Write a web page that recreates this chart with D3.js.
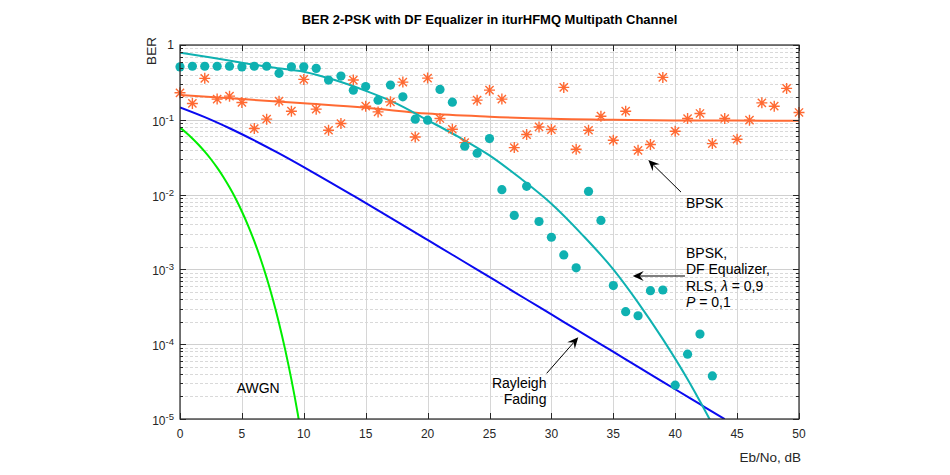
<!DOCTYPE html>
<html>
<head>
<meta charset="utf-8">
<script src="https://cdn.jsdelivr.net/npm/d3@7/dist/d3.min.js"></script>
<style>
  html, body { margin: 0; padding: 0; background: #fff; }
  svg { display: block; font-family: "Liberation Sans", Arial, Helvetica, sans-serif; }
</style>
</head>
<body>
<svg id="chart" width="950" height="475"></svg>
<script>
// ---------------- data ----------------
const xTicks = [0, 5, 10, 15, 20, 25, 30, 35, 40, 45, 50];
const yTickExp = [0, -1, -2, -3, -4, -5];

const ebnoEq = [0,1,2,3,4,5,6,7,8,9,10,11,12,13,14,15,16,17,18,19,20,21,22,23,24,25,26,27,28,29,30,31,32,33,34,35,36,37,38,39,40,41,42,43];
const berEq = [0.51,0.52,0.52,0.52,0.52,0.51,0.52,0.52,0.418,0.51,0.51,0.487,0.34,0.384,0.249,0.278,0.183,0.291,0.203,0.102,0.0988,0.255,0.172,0.0443,0.0357,0.0561,0.01163,0.00526,0.0129,0.00437,0.00269,0.00156,0.00105,0.01104,0.00451,0.000607,0.000272,0.00024,0.00052,0.00053,2.83e-5,7.36e-5,1.365e-4,3.77e-5];

const ebnoBpsk = [0,1,2,3,4,5,6,7,8,9,10,11,12,13,14,15,16,17,18,19,20,21,22,23,24,25,26,27,28,29,30,31,32,33,34,35,36,37,38,39,40,41,42,43,44,45,46,47,48,49,50];
const berBpsk = [0.2295,0.1654,0.358,0.189,0.207,0.1706,0.0764,0.102,0.1776,0.1303,0.347,0.1387,0.0725,0.0892,0.34,0.152,0.1276,0.1738,0.319,0.059,0.361,0.104,0.0748,0.0496,0.183,0.249,0.189,0.0425,0.0635,0.0803,0.0741,0.271,0.0404,0.0725,0.1117,0.0533,0.1303,0.0391,0.0467,0.369,0.0703,0.104,0.1215,0.0481,0.104,0.055,0.0988,0.1686,0.152,0.263,0.1253];

// fitted curve of the equalizer results
const fitEqX = [0, 2.5, 5, 7.5, 10, 12.5, 15, 17.5, 20, 22.5, 25, 27.5, 30, 32.5, 35, 37, 39, 41, 42.2, 43];
const fitEqY = [0.79, 0.68, 0.58, 0.5, 0.44, 0.34, 0.244, 0.165, 0.099, 0.059, 0.0335, 0.0165, 0.00755, 0.0029, 0.001, 3.6e-4, 1.17e-4, 3.4e-5, 1.5e-5, 8.5e-6];

// fitted curve of BPSK results
const fitBpskX = [0, 5, 10, 15, 20, 25, 30, 35, 40, 45, 50];
const fitBpskY = [0.214, 0.189, 0.166, 0.145, 0.121, 0.11, 0.103, 0.1, 0.098, 0.0975, 0.097];

// Rayleigh fading theory
const rayX = [0, 2, 4, 6, 8, 10, 12, 14, 16, 18, 20, 22, 24, 26, 28, 30, 32, 34, 36, 38, 40, 42, 44];
const rayY = [0.1464, 0.1085, 0.0771, 0.053, 0.0355, 0.02327, 0.01507, 0.00966, 0.00616, 0.003915, 0.002481, 0.00157, 0.000995, 0.000628, 0.000396, 0.00025, 0.0001577, 9.95e-5, 6.28e-5, 3.96e-5, 2.5e-5, 1.577e-5, 9.95e-6];

// AWGN theory
const awgnX = [0, 0.5, 1, 1.5, 2, 2.5, 3, 3.5, 4, 4.5, 5, 5.5, 6, 6.5, 7, 7.5, 8, 8.5, 9, 9.5, 10];
const awgnY = [0.0786, 0.0671, 0.0563, 0.0464, 0.0375, 0.0297, 0.0229, 0.0172, 0.0125, 0.0088, 0.00595, 0.00386, 0.00239, 0.0014, 7.73e-4, 3.99e-4, 1.91e-4, 8.4e-5, 3.36e-5, 1.21e-5, 3.87e-6];

// ---------------- layout ----------------
const svg = d3.select("#chart");
const L = 180, R = 799, T = 45, B = 419;
const x = d3.scaleLinear().domain([0, 50]).range([L, R]);
const y = d3.scaleLog().domain([1e-5, 1]).range([B, T]);

const axisColor = "#262626";
const teal = "#0fb1b1";
const orange = "#ff6a33";

svg.append("defs").append("clipPath").attr("id", "clip")
  .append("rect").attr("x", L).attr("y", T).attr("width", R - L).attr("height", B - T);

// grid
const grid = svg.append("g");
const minorVals = [];
for (let e = -5; e < 0; e++) for (let m = 2; m <= 9; m++) minorVals.push(m * Math.pow(10, e));
grid.selectAll("line.minor").data(minorVals).enter().append("line")
  .attr("x1", L).attr("x2", R)
  .attr("y1", d => Math.round(y(d)) + 0.5).attr("y2", d => Math.round(y(d)) + 0.5)
  .attr("stroke", "#d9d9d9").attr("stroke-width", 1).attr("stroke-dasharray", "3,2");
grid.selectAll("line.majh").data(yTickExp.map(e => Math.pow(10, e))).enter().append("line")
  .attr("x1", L).attr("x2", R)
  .attr("y1", d => Math.round(y(d)) + 0.5).attr("y2", d => Math.round(y(d)) + 0.5)
  .attr("stroke", "#d0d0d0").attr("stroke-width", 1);
grid.selectAll("line.majv").data(xTicks).enter().append("line")
  .attr("x1", d => Math.round(x(d)) + 0.5).attr("x2", d => Math.round(x(d)) + 0.5)
  .attr("y1", T).attr("y2", B)
  .attr("stroke", "#d6d6d6").attr("stroke-width", 1);

// curves
const plot = svg.append("g").attr("clip-path", "url(#clip)");
function drawCurve(xs, ys, color) {
  const pts = xs.map((v, i) => [v, ys[i]]);
  plot.append("path").datum(pts)
    .attr("fill", "none").attr("stroke", color).attr("stroke-width", 2)
    .attr("d", d3.line().x(d => x(d[0])).y(d => y(d[1])).curve(d3.curveMonotoneX));
}
drawCurve(awgnX, awgnY, "#00ee00");
drawCurve(rayX, rayY, "#0a0af0");
drawCurve(fitBpskX, fitBpskY, orange);

// BPSK asterisk markers
const s = 5.5, sd = 4.1;
const starPath = `M${-s},0L${s},0M0,${-s}L0,${s}M${-sd},${-sd}L${sd},${sd}M${-sd},${sd}L${sd},${-sd}`;
svg.append("g").selectAll("path").data(ebnoBpsk.map((v, i) => [v, berBpsk[i]])).enter()
  .append("path")
  .attr("transform", d => `translate(${x(d[0])},${y(d[1])})`)
  .attr("d", starPath)
  .attr("fill", "none").attr("stroke", orange).attr("stroke-width", 1.4);

drawCurve(fitEqX, fitEqY, teal);

// equalizer dots
svg.append("g").selectAll("circle").data(ebnoEq.map((v, i) => [v, berEq[i]])).enter()
  .append("circle")
  .attr("cx", d => x(d[0])).attr("cy", d => y(d[1])).attr("r", 4.6)
  .attr("fill", teal);

// axes box
const ax = svg.append("g").attr("stroke", axisColor).attr("fill", "none");
ax.append("rect").attr("x", L).attr("y", T).attr("width", R - L).attr("height", B - T)
  .attr("stroke-width", 1.2);
xTicks.forEach(t => {
  const px = Math.round(x(t)) + 0.5;
  ax.append("line").attr("x1", px).attr("x2", px).attr("y1", B).attr("y2", B - 6);
  ax.append("line").attr("x1", px).attr("x2", px).attr("y1", T).attr("y2", T + 6);
});
yTickExp.forEach(e => {
  const py = Math.round(y(Math.pow(10, e))) + 0.5;
  ax.append("line").attr("x1", L).attr("x2", L + 6).attr("y1", py).attr("y2", py);
  ax.append("line").attr("x1", R).attr("x2", R - 6).attr("y1", py).attr("y2", py);
});
minorVals.forEach(v => {
  const py = Math.round(y(v)) + 0.5;
  ax.append("line").attr("x1", L).attr("x2", L + 3).attr("y1", py).attr("y2", py);
  ax.append("line").attr("x1", R).attr("x2", R - 3).attr("y1", py).attr("y2", py);
});

// tick labels
const txt = svg.append("g").attr("fill", axisColor).attr("font-size", 12);
txt.selectAll("text.xt").data(xTicks).enter().append("text")
  .attr("x", d => x(d)).attr("y", 438).attr("text-anchor", "middle").text(d => d);
yTickExp.forEach(e => {
  const py = y(Math.pow(10, e));
  if (e === 0) {
    txt.append("text").attr("x", 174).attr("y", py + 4).attr("text-anchor", "end").text("1");
  } else {
    const t = txt.append("text").attr("x", 174).attr("y", py + 6).attr("text-anchor", "end");
    t.append("tspan").text("10");
    t.append("tspan").attr("dy", -5).attr("font-size", 9.5).text("-" + (-e));
  }
});

// axis labels and title
svg.append("text").attr("x", (L + R) / 2).attr("y", 24).attr("text-anchor", "middle")
  .attr("font-size", 13).attr("font-weight", "bold").attr("fill", "#000")
  .text("BER 2-PSK with DF Equalizer in iturHFMQ Multipath Channel");
svg.append("text").attr("transform", "translate(156,51) rotate(-90)")
  .attr("text-anchor", "middle").attr("font-size", 13.5).attr("fill", axisColor).text("BER");
svg.append("text").attr("x", 801).attr("y", 462).attr("text-anchor", "end")
  .attr("font-size", 13.5).attr("fill", axisColor).text("Eb/No, dB");

// annotations
const ann = svg.append("g").attr("font-size", 14).attr("fill", "#000");
function arrow(x0, y0, x1, y1) {
  const p0 = [x(x0), y(y0)], p1 = [x(x1), y(y1)];
  const dx = p1[0] - p0[0], dy = p1[1] - p0[1];
  const len = Math.hypot(dx, dy), ux = dx / len, uy = dy / len;
  const hl = 11, hw = 5, notch = 7;
  svg.append("line").attr("x1", p0[0]).attr("y1", p0[1])
    .attr("x2", p1[0] - ux * notch).attr("y2", p1[1] - uy * notch)
    .attr("stroke", "#000").attr("stroke-width", 1);
  const bx = p1[0] - ux * hl, by = p1[1] - uy * hl;
  const nx = p1[0] - ux * notch, ny = p1[1] - uy * notch;
  svg.append("path")
    .attr("d", `M${p1[0]},${p1[1]}L${bx - uy * hw},${by + ux * hw}L${nx},${ny}L${bx + uy * hw},${by - ux * hw}Z`)
    .attr("fill", "#000");
}
arrow(40.47, 0.0108, 37.83, 0.029);
arrow(40.79, 8.16e-4, 36.57, 8.16e-4);
arrow(29.62, 4.08e-5, 32.17, 1.236e-4);

ann.append("text").attr("x", x(40.87)).attr("y", y(0.0066)).text("BPSK");
const eqLines = ann.append("text").attr("x", x(40.87)).attr("y", 257.5);
eqLines.append("tspan").attr("x", x(40.87)).text("BPSK,");
eqLines.append("tspan").attr("x", x(40.87)).attr("dy", 16.5).text("DF Equalizer,");
eqLines.append("tspan").attr("x", x(40.87)).attr("dy", 16.5).text("RLS, ");
eqLines.append("tspan").attr("font-style", "italic").text("λ");
eqLines.append("tspan").text(" = 0,9");
eqLines.append("tspan").attr("x", x(40.87)).attr("dy", 16.5).attr("font-style", "italic").text("P");
eqLines.append("tspan").text(" = 0,1");

const ray = ann.append("text").attr("text-anchor", "end");
ray.append("tspan").attr("x", x(29.6)).attr("y", 387.5).text("Rayleigh");
ray.append("tspan").attr("x", x(29.6)).attr("dy", 16.5).text("Fading");
ann.append("text").attr("x", x(4.58)).attr("y", 393).text("AWGN");
</script>
</body>
</html>
